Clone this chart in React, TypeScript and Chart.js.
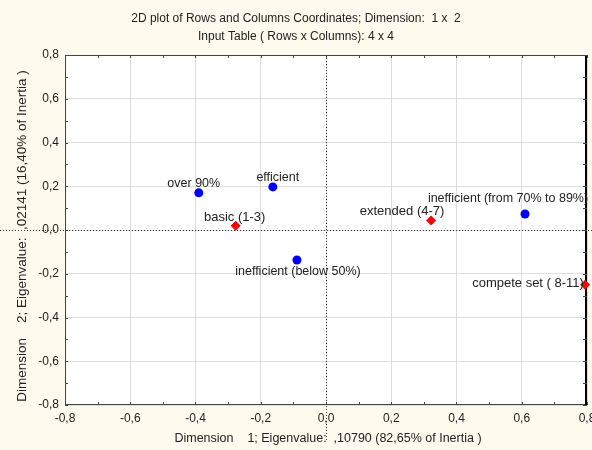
import React, { useEffect, useRef } from "react";
import { Chart, registerables } from "chart.js";

Chart.register(...registerables);

// ---- data ----
const rowLabels = ["basic (1-3)", "extended (4-7)", "compete set ( 8-11)"];
const rowX = [-0.277, 0.322, 0.794];
const rowY = [0.02, 0.043, -0.25];

const colLabels = ["over 90%", "efficient", "inefficient (below 50%)", "inefficient (from 70% to 89%)"];
const colX = [-0.39, -0.163, -0.089, 0.61];
const colY = [0.17, 0.197, -0.137, 0.073];

const axisMin = -0.8;
const axisMax = 0.8;
const axisStep = 0.2;

const titleLines = [
  "2D plot of Rows and Columns Coordinates; Dimension:  1 x  2",
  "Input Table ( Rows x Columns): 4 x 4",
];
const xTitle = "Dimension    1; Eigenvalue:  ,10790 (82,65% of Inertia )";
const yTitle = "Dimension    2; Eigenvalue:  ,02141 (16,40% of Inertia )";

// ---- label placement (style) ----
const rowLabelOffsets = [[-1, -8], [-29, -9], [-57, -1]];
const colLabelOffsets = [[-5, -9], [5, -9], [1, 12], [-17, -15]];

const FONT = "Arial, 'Liberation Sans', sans-serif";
const BG = "#FFFAEE";
const TEXT = "#222222";

const fmt = (v: number) => {
  if (Math.abs(v) < 1e-9) return "0,0";
  return v.toFixed(1).replace(".", ",");
};

const decorPlugin = {
  id: "decor",
  beforeDraw(chart: any) {
    const { ctx, chartArea, width, height } = chart;
    ctx.save();
    ctx.fillStyle = BG;
    ctx.fillRect(0, 0, width, height);
    ctx.fillStyle = "#ffffff";
    ctx.fillRect(chartArea.left, chartArea.top, chartArea.right - chartArea.left, chartArea.bottom - chartArea.top);
    ctx.restore();
  },
  beforeDatasetsDraw(chart: any) {
    const { ctx, chartArea, width } = chart;
    const xs = chart.scales.x;
    const ys = chart.scales.y;
    ctx.save();
    // dotted zero lines
    ctx.strokeStyle = "#333333";
    ctx.lineWidth = 1;
    ctx.setLineDash([1, 2]);
    const y0 = Math.round(ys.getPixelForValue(0)) + 0.5;
    const x0 = Math.round(xs.getPixelForValue(0)) + 0.5;
    ctx.beginPath();
    ctx.moveTo(0, y0);
    ctx.lineTo(width, y0);
    ctx.stroke();
    ctx.beginPath();
    ctx.moveTo(x0, chartArea.top);
    ctx.lineTo(x0, 440);
    ctx.stroke();
    ctx.setLineDash([]);
    // border
    ctx.strokeStyle = "#444444";
    ctx.lineWidth = 1;
    ctx.strokeRect(chartArea.left + 0.5, chartArea.top + 0.5, chartArea.right - chartArea.left - 1, chartArea.bottom - chartArea.top - 1);
    ctx.strokeStyle = "#000000";
    ctx.lineWidth = 2;
    ctx.beginPath();
    ctx.moveTo(chartArea.right - 1, chartArea.top);
    ctx.lineTo(chartArea.right - 1, chartArea.bottom);
    ctx.stroke();
    // inward minor ticks
    ctx.strokeStyle = "#444444";
    ctx.lineWidth = 1;
    for (let v = axisMin; v <= axisMax + 1e-9; v += axisStep / 2) {
      const px = Math.round(xs.getPixelForValue(v)) + 0.5;
      const py = Math.round(ys.getPixelForValue(v)) + 0.5;
      ctx.beginPath();
      ctx.moveTo(px, chartArea.bottom);
      ctx.lineTo(px, chartArea.bottom - 3);
      ctx.moveTo(px, chartArea.top);
      ctx.lineTo(px, chartArea.top + 3);
      ctx.moveTo(chartArea.left, py);
      ctx.lineTo(chartArea.left + 3, py);
      ctx.moveTo(chartArea.right, py);
      ctx.lineTo(chartArea.right - 4, py);
      ctx.stroke();
    }
    ctx.restore();
  },
  afterDraw(chart: any) {
    const { ctx, chartArea, width } = chart;
    ctx.save();
    ctx.fillStyle = TEXT;
    ctx.font = `12px ${FONT}`;
    ctx.textAlign = "center";
    ctx.textBaseline = "middle";
    ctx.fillText(titleLines[0], width / 2, 19);
    ctx.fillText(titleLines[1], width / 2, 37);
    ctx.font = `12.5px ${FONT}`;
    ctx.fillText(xTitle, (chartArea.left + chartArea.right) / 2 + 2, 439);
    ctx.save();
    ctx.font = `13.5px ${FONT}`;
    ctx.translate(22, (chartArea.top + chartArea.bottom) / 2 + 6);
    ctx.rotate(-Math.PI / 2);
    ctx.fillText(yTitle, 0, 0);
    ctx.restore();

    // point labels
    const drawLabels = (dsIndex: number, labels: string[], offs: number[][], size: number) => {
      ctx.font = `${size}px ${FONT}`;
      const meta = chart.getDatasetMeta(dsIndex);
      meta.data.forEach((el: any, i: number) => {
        ctx.fillText(labels[i], el.x + offs[i][0], el.y + offs[i][1]);
      });
    };
    drawLabels(0, rowLabels, rowLabelOffsets, 13);
    drawLabels(1, colLabels, colLabelOffsets, 12.5);
    ctx.restore();
  },
};

export default function App() {
  const ref = useRef<HTMLCanvasElement | null>(null);
  useEffect(() => {
    document.body.style.margin = "0";
    const canvas = ref.current;
    if (!canvas) return;
    const chart = new Chart(canvas, {
      type: "scatter",
      data: {
        datasets: [
          {
            label: "Rows",
            data: rowX.map((x, i) => ({ x, y: rowY[i] })),
            backgroundColor: "#ff0000",
            borderColor: "#ff0000",
            pointStyle: "rectRot",
            pointRadius: 5,
            borderWidth: 0,
          },
          {
            label: "Columns",
            data: colX.map((x, i) => ({ x, y: colY[i] })),
            backgroundColor: "#0000ff",
            borderColor: "#0000ff",
            pointStyle: "circle",
            pointRadius: 4.5,
            borderWidth: 0,
          },
        ],
      },
      options: {
        animation: false,
        responsive: false,
        clip: false as any,
        layout: { padding: { top: 55, right: 4, left: 0, bottom: 0 } },
        plugins: {
          legend: { display: false },
          title: { display: false },
          tooltip: { enabled: false },
        },
        scales: {
          x: {
            type: "linear",
            min: axisMin,
            max: axisMax,
            afterFit: (s: any) => {
              s.height = 45;
              s.paddingLeft = 0;
              s.paddingRight = 0;
            },
            ticks: {
              stepSize: axisStep,
              padding: 6,
              color: TEXT,
              font: { family: FONT, size: 12 },
              callback: (v: any) => fmt(Number(v)),
              maxRotation: 0,
              autoSkip: false,
            },
            grid: { color: "#dddddd", drawTicks: false },
            border: { display: false },
          },
          y: {
            type: "linear",
            min: axisMin,
            max: axisMax,
            afterFit: (s: any) => {
              s.width = 65;
              s.paddingTop = 0;
              s.paddingBottom = 0;
            },
            ticks: {
              stepSize: axisStep,
              padding: 6,
              color: TEXT,
              font: { family: FONT, size: 12 },
              callback: (v: any) => fmt(Number(v)),
              autoSkip: false,
            },
            grid: { color: "#dddddd", drawTicks: false },
            border: { display: false },
          },
        },
      },
      plugins: [decorPlugin],
    });
    return () => chart.destroy();
  }, []);
  return <canvas ref={ref} width={592} height={450} style={{ display: "block" }} />;
}
